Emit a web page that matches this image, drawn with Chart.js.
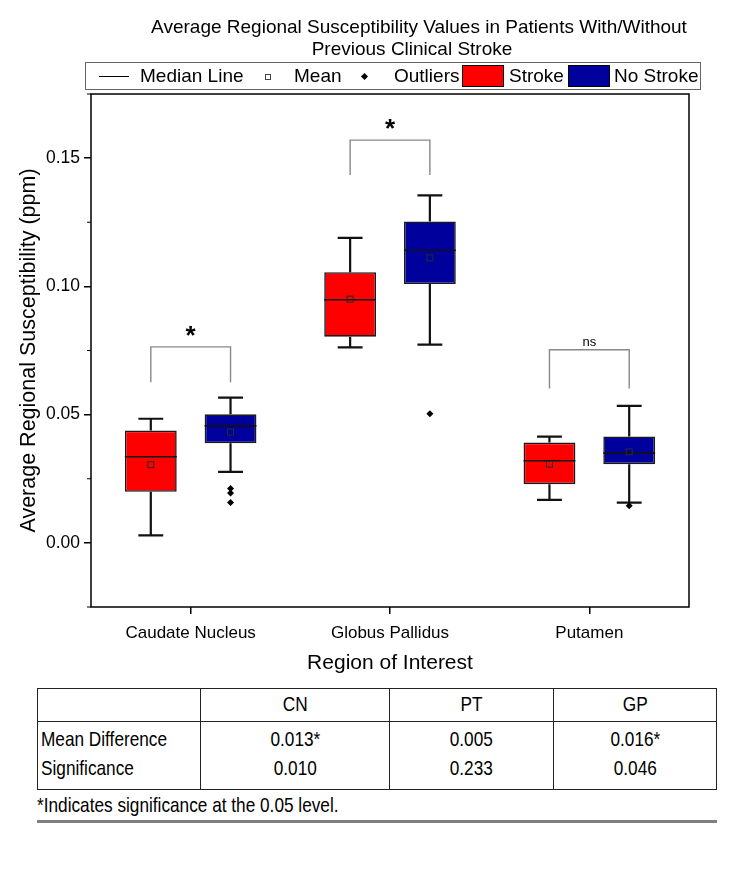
<!DOCTYPE html>
<html>
<head>
<meta charset="utf-8">
<script src="https://cdn.jsdelivr.net/npm/chart.js@4.4.1/dist/chart.umd.min.js"></script>
<style>
  html, body { margin: 0; padding: 0; background: #fff; }
  #page { position: relative; width: 756px; height: 870px; font-family: "Liberation Sans", Arial, sans-serif; color: #000; }
  #grafico { position: absolute; left: 0; top: 0; }
  .titulo { position: absolute; font-size: 19px; line-height: 19px; white-space: nowrap; transform: translateX(-50%); }
  #legenda { position: absolute; left: 85px; top: 62px; width: 614px; height: 26px; border: 1px solid #666; box-sizing: content-box; }
  #legenda .txt { position: absolute; top: 3px; font-size: 19px; line-height: 19px; white-space: nowrap; }
  #legenda .linha { position: absolute; left: 13px; top: 13px; width: 30px; height: 0; border-top: 1.5px solid #000; }
  #legenda .quad { position: absolute; left: 179px; top: 11px; width: 4px; height: 4px; border: 1px solid #444; }
  #legenda .losango { position: absolute; left: 276px; top: 11px; width: 5px; height: 5px; background: #000; transform: rotate(45deg); }
  #legenda .caixa { position: absolute; top: 2px; width: 40px; height: 20px; border: 1px solid #000; }
  #tabela { position: absolute; left: 37px; top: 688px; width: 680px; border-collapse: collapse; border: 1px solid #222;
            font-family: "Liberation Sans", Arial, sans-serif; font-size: 21px; table-layout: fixed; }
  #tabela td { border-left: 1px solid #222; border-right: 1px solid #222; padding: 0; text-align: center; white-space: nowrap; }
  #tabela td span { display: inline-block; transform: scaleX(0.82); transform-origin: 50% 50%; }
  #tabela td.rot span { transform-origin: 0 50%; }
  #tabela tr.cab td { height: 32px; border-bottom: 1px solid #222; vertical-align: top; line-height: 30px; }
  #tabela tr.l1 td { height: 34px; vertical-align: middle; }
  #tabela tr.l2 td { height: 33px; vertical-align: top; line-height: 24px; }
  #tabela td.rot { text-align: left; padding-left: 3px; }
  #nota { position: absolute; left: 37px; top: 793px; font-size: 21px; line-height: 24px; white-space: nowrap;
          transform: scaleX(0.82); transform-origin: 0 50%; }
  #regua { position: absolute; left: 37px; top: 820px; width: 680px; height: 3px; background: #7f7f7f; }
</style>
</head>
<body>
<div id="page">
  <canvas id="grafico" width="756" height="685"></canvas>
  <div class="titulo" style="left: 419px; top: 17px;">Average Regional Susceptibility Values in Patients With/Without</div>
  <div class="titulo" style="left: 412px; top: 39px;">Previous Clinical Stroke</div>
  <div id="legenda">
    <div class="linha"></div>
    <div class="txt" style="left: 54px;">Median Line</div>
    <div class="quad"></div>
    <div class="txt" style="left: 208px;">Mean</div>
    <div class="losango"></div>
    <div class="txt" style="left: 308px;">Outliers</div>
    <div class="caixa" style="left: 376px; background: #ff0000;"></div>
    <div class="txt" style="left: 423px;">Stroke</div>
    <div class="caixa" style="left: 482px; background: #00009c;"></div>
    <div class="txt" style="left: 528px;">No Stroke</div>
  </div>
  <table id="tabela"></table>
  <div id="nota">*Indicates significance at the 0.05 level.</div>
  <div id="regua"></div>
</div>
<script>
// Regiões e séries (em ppm)
const regioes = ["Caudate Nucleus", "Globus Pallidus", "Putamen"];

const strokeMin    = [0.0029, 0.0762, 0.0168];
const strokeQ1     = [0.0199, 0.0804, 0.0229];
const strokeMediana = [0.0336, 0.0948, 0.0320];
const strokeQ3     = [0.0438, 0.1055, 0.0391];
const strokeMax    = [0.0484, 0.1189, 0.0414];
const strokeMedia  = [0.0305, 0.0950, 0.0307];
const strokeOutliers = [[], [], []];

const noStrokeMin    = [0.0277, 0.0773, 0.0157];
const noStrokeQ1     = [0.0388, 0.1009, 0.0307];
const noStrokeMediana = [0.0456, 0.1141, 0.0350];
const noStrokeQ3     = [0.0501, 0.1253, 0.0415];
const noStrokeMax    = [0.0566, 0.1355, 0.0534];
const noStrokeMedia  = [0.0432, 0.1111, 0.0355];
const noStrokeOutliers = [[0.0212, 0.0194, 0.0157], [0.0503], [0.0145]];

// Colchetes de significância
const sigTexto = ["*", "*", "ns"];
const sigTopo  = [0.0764, 0.1570, 0.0753];
const sigBase  = [0.0626, 0.1434, 0.0602];

// Eixo y
const yMin = -0.025;
const yMax = 0.175;
const yPasso = 0.025;

// Tabela
const colunasTabela = ["CN", "PT", "GP"];
const diferencaMedia = ["0.013*", "0.005", "0.016*"];
const significancia = ["0.010", "0.233", "0.046"];

const grupos = [
  { min: strokeMin, max: strokeMax, mediana: strokeMediana, media: strokeMedia, outliers: strokeOutliers },
  { min: noStrokeMin, max: noStrokeMax, mediana: noStrokeMediana, media: noStrokeMedia, outliers: noStrokeOutliers }
];

function ehMaior(v) {
  const r = v / 0.05;
  return Math.abs(r - Math.round(r)) < 1e-6;
}

const pluginCaixas = {
  id: "caixas",
  afterDatasetsDraw(chart) {
    const { ctx, scales: { y } } = chart;
    ctx.save();
    grupos.forEach((g, di) => {
      const meta = chart.getDatasetMeta(di);
      meta.data.forEach((bar, i) => {
        const x = bar.x;
        const meia = bar.width / 2;
        const cap = bar.width * 0.24;
        const yMaxPx = y.getPixelForValue(g.max[i]);
        const yMinPx = y.getPixelForValue(g.min[i]);
        const yTopo = Math.min(bar.y, bar.base);
        const yBase = Math.max(bar.y, bar.base);

        // bigodes
        ctx.strokeStyle = "#111";
        ctx.lineWidth = 2.2;
        ctx.beginPath();
        ctx.moveTo(x, yTopo); ctx.lineTo(x, yMaxPx);
        ctx.moveTo(x, yBase); ctx.lineTo(x, yMinPx);
        ctx.moveTo(x - cap, yMaxPx); ctx.lineTo(x + cap, yMaxPx);
        ctx.moveTo(x - cap, yMinPx); ctx.lineTo(x + cap, yMinPx);
        ctx.stroke();

        // mediana
        const yMed = y.getPixelForValue(g.mediana[i]);
        ctx.lineWidth = 1.6;
        ctx.beginPath();
        ctx.moveTo(x - meia, yMed); ctx.lineTo(x + meia, yMed);
        ctx.stroke();

        // média
        const yMedia = y.getPixelForValue(g.media[i]);
        ctx.lineWidth = 1;
        ctx.strokeStyle = "#2a2a2a";
        ctx.strokeRect(x - 3, yMedia - 3, 6, 6);

        // outliers
        ctx.fillStyle = "#000";
        g.outliers[i].forEach(v => {
          const yo = y.getPixelForValue(v);
          ctx.beginPath();
          ctx.moveTo(x, yo - 3.5);
          ctx.lineTo(x + 3.5, yo);
          ctx.lineTo(x, yo + 3.5);
          ctx.lineTo(x - 3.5, yo);
          ctx.closePath();
          ctx.fill();
        });
      });
    });

    // colchetes
    const m0 = chart.getDatasetMeta(0);
    const m1 = chart.getDatasetMeta(1);
    regioes.forEach((r, i) => {
      const x1 = m0.data[i].x;
      const x2 = m1.data[i].x;
      const yt = y.getPixelForValue(sigTopo[i]);
      const yb = y.getPixelForValue(sigBase[i]);
      ctx.strokeStyle = "#888";
      ctx.lineWidth = 1.4;
      ctx.beginPath();
      ctx.moveTo(x1, yb); ctx.lineTo(x1, yt); ctx.lineTo(x2, yt); ctx.lineTo(x2, yb);
      ctx.stroke();
      ctx.fillStyle = "#000";
      ctx.textAlign = "center";
      ctx.textBaseline = "alphabetic";
      ctx.font = sigTexto[i] === "ns" ? "13px 'Liberation Sans', Arial" : "bold 26px 'Liberation Sans', Arial";
      ctx.fillText(sigTexto[i], (x1 + x2) / 2, sigTexto[i] === "ns" ? yt - 4 : yt - 3);
    });
    ctx.restore();
  },
  afterDraw(chart) {
    const { ctx, chartArea: a, scales: { y } } = chart;
    ctx.save();
    // moldura
    ctx.strokeStyle = "#000";
    ctx.lineWidth = 1.5;
    ctx.strokeRect(a.left, a.top, a.right - a.left, a.bottom - a.top);
    // ticks menores
    ctx.lineWidth = 1.2;
    ctx.beginPath();
    y.ticks.forEach(t => {
      if (ehMaior(t.value)) return;
      const py = y.getPixelForValue(t.value);
      ctx.moveTo(a.left - 4, py); ctx.lineTo(a.left, py);
    });
    ctx.stroke();
    ctx.restore();
  }
};

function montarTabela() {
  const tab = document.getElementById("tabela");
  const larg = [163, 188, 164, 163];
  let html = '<colgroup>' + larg.map(w => `<col style="width:${w}px">`).join("") + '</colgroup>';
  html += '<tr class="cab"><td></td>';
  colunasTabela.forEach(c => { html += `<td><span>${c}</span></td>`; });
  html += '</tr><tr class="l1"><td class="rot"><span>Mean Difference</span></td>';
  diferencaMedia.forEach(v => { html += `<td><span>${v}</span></td>`; });
  html += '</tr><tr class="l2"><td class="rot"><span>Significance</span></td>';
  significancia.forEach(v => { html += `<td><span>${v}</span></td>`; });
  html += '</tr>';
  tab.innerHTML = html;
}

const ctx = document.getElementById("grafico").getContext("2d");
new Chart(ctx, {
  type: "bar",
  data: {
    labels: regioes,
    datasets: [
      {
        label: "Stroke",
        data: regioes.map((r, i) => [strokeQ1[i], strokeQ3[i]]),
        backgroundColor: "#ff0000",
        borderColor: "#1a1a1a",
        borderWidth: 1.6,
        borderSkipped: false
      },
      {
        label: "No Stroke",
        data: regioes.map((r, i) => [noStrokeQ1[i], noStrokeQ3[i]]),
        backgroundColor: "#00009c",
        borderColor: "#1a1a1a",
        borderWidth: 1.6,
        borderSkipped: false
      }
    ]
  },
  options: {
    responsive: false,
    animation: false,
    categoryPercentage: 0.8,
    barPercentage: 0.65,
    layout: { padding: { top: 94, right: 67, left: 0, bottom: 0 } },
    plugins: {
      legend: { display: false },
      tooltip: { enabled: false }
    },
    scales: {
      x: {
        grid: { display: true, drawOnChartArea: false, drawTicks: true, tickLength: 7, offset: false, color: "#000", lineWidth: 1.5 },
        border: { display: false },
        ticks: { color: "#000", font: { family: "'Liberation Sans', Arial", size: 17 }, padding: 9 },
        title: { display: true, text: "Region of Interest", color: "#000", font: { family: "'Liberation Sans', Arial", size: 21 }, padding: { top: 0, bottom: 9 } },
        afterFit: s => { s.height = 78; }
      },
      y: {
        min: yMin,
        max: yMax,
        grid: {
          display: true, drawOnChartArea: false, drawTicks: true, tickLength: 7, lineWidth: 1.5,
          tickColor: c => (c.tick && ehMaior(c.tick.value)) ? "#000" : "rgba(0,0,0,0)"
        },
        border: { display: false },
        ticks: {
          stepSize: yPasso,
          color: "#000",
          font: { family: "'Liberation Sans', Arial", size: 17.5 },
          padding: 4,
          callback: v => ehMaior(v) ? (Math.abs(v) < 1e-9 ? 0 : v).toFixed(2) : ""
        },
        title: { display: true, text: "Average Regional Susceptibility (ppm)", color: "#000", font: { family: "'Liberation Sans', Arial", size: 21.5 }, padding: { top: 16, bottom: 0 } },
        afterFit: s => { s.width = 91; }
      }
    }
  },
  plugins: [pluginCaixas]
});

montarTabela();
</script>
</body>
</html>
